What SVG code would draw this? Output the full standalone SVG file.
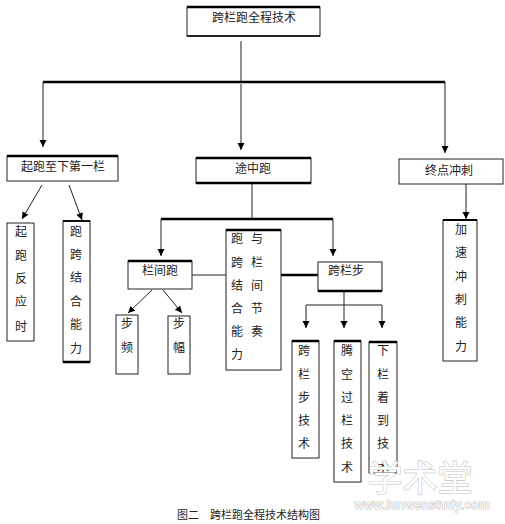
<svg xmlns="http://www.w3.org/2000/svg" width="505" height="524" viewBox="0 0 505 524">
<style>
  .box { fill: #fff; stroke: #222; stroke-width: 1; }
  .thick { stroke: #000; stroke-width: 2.5; }
  .t { font-family: "Noto Sans CJK SC", "Noto Sans CJK TC", sans-serif; font-size: 12px; fill: #222; text-anchor: middle; }
  .ln { fill: none; stroke: #222; stroke-width: 1; }
  .lnb { fill: none; stroke: #000; stroke-width: 2.5; }
  .wm { font-family: "Liberation Sans", "Noto Sans CJK SC", sans-serif; fill: #fff; stroke: #c4c4c4; stroke-width: 1.2; paint-order: stroke; text-anchor: middle; }
</style>
<defs>
  <marker id="arr" markerUnits="userSpaceOnUse" markerWidth="8" markerHeight="8" refX="7" refY="3.5" orient="auto">
    <path d="M0,0 L7,3.5 L0,7 Z" fill="#000"/>
  </marker>
</defs>
<rect width="505" height="524" fill="#fff"/>

<g id="connectors">
  <line class="ln" x1="241" y1="41" x2="241" y2="82"/>
  <line class="lnb" x1="43" y1="82" x2="445" y2="82"/>
  <line class="ln" x1="43" y1="82" x2="43" y2="147" marker-end="url(#arr)"/>
  <line class="ln" x1="241" y1="84" x2="241" y2="150" marker-end="url(#arr)"/>
  <line class="ln" x1="445" y1="82" x2="445" y2="153" marker-end="url(#arr)"/>
  <line class="ln" x1="42" y1="185" x2="22" y2="219" marker-end="url(#arr)"/>
  <line class="ln" x1="69" y1="185" x2="82" y2="220" marker-end="url(#arr)"/>
  <line class="ln" x1="252" y1="183" x2="252" y2="219"/>
  <line class="lnb" x1="161" y1="219" x2="333" y2="219"/>
  <line class="ln" x1="161" y1="219" x2="161" y2="256" marker-end="url(#arr)"/>
  <line class="ln" x1="333" y1="219" x2="333" y2="256" marker-end="url(#arr)"/>
  <line class="ln" x1="466" y1="184" x2="466" y2="219" marker-end="url(#arr)"/>
  <line class="ln" x1="192" y1="275" x2="226" y2="275"/>
  <line class="lnb" x1="281" y1="275" x2="318" y2="275"/>
  <line class="ln" x1="152" y1="290" x2="128" y2="313" marker-end="url(#arr)"/>
  <line class="ln" x1="163" y1="290" x2="182" y2="313" marker-end="url(#arr)"/>
  <line class="ln" x1="344" y1="292" x2="344" y2="328" marker-end="url(#arr)"/>
  <line class="ln" x1="306" y1="305" x2="382" y2="305"/>
  <line class="ln" x1="306" y1="305" x2="306" y2="328" marker-end="url(#arr)"/>
  <line class="ln" x1="382" y1="305" x2="382" y2="328" marker-end="url(#arr)"/>
</g>

<g id="root">
  <rect class="box" x="187" y="7" width="133" height="29"/>
  <line class="thick" x1="187" y1="7" x2="320" y2="7"/>
  <line x1="187" y1="36" x2="320" y2="36" stroke="#000" stroke-width="1.5"/>
  <text class="t" x="254" y="21.5">跨栏跑全程技术</text>
</g>

<g id="start">
  <rect class="box" x="7" y="156" width="111" height="25"/>
  <line class="thick" x1="7" y1="156" x2="118" y2="156"/>
  <text class="t" x="63" y="171">起跑至下第一栏</text>
</g>

<g id="midrun">
  <rect class="box" x="196" y="158" width="115" height="25"/>
  <line class="thick" x1="196" y1="158" x2="311" y2="158"/>
  <line class="thick" x1="196" y1="183" x2="311" y2="183"/>
  <text class="t" x="253" y="173">途中跑</text>
</g>

<g id="finish">
  <rect class="box" x="399" y="159" width="104" height="25"/>
  <text class="t" x="449" y="175">终点冲刺</text>
</g>

<g id="reaction">
  <rect class="box" x="7" y="223" width="27" height="118"/>
  <text class="t" x="21"><tspan x="21" y="236">起</tspan><tspan x="21" y="260">跑</tspan><tspan x="21" y="283">反</tspan><tspan x="21" y="306">应</tspan><tspan x="21" y="331">时</tspan></text>
</g>

<g id="combine">
  <rect class="box" x="63" y="221" width="27" height="141"/>
  <line x1="63" y1="221" x2="90" y2="221" stroke="#000" stroke-width="1.8"/>
  <line class="thick" x1="63" y1="362" x2="90" y2="362"/>
  <text class="t"><tspan x="76" y="236">跑</tspan><tspan x="76" y="259">跨</tspan><tspan x="76" y="282">结</tspan><tspan x="76" y="306">合</tspan><tspan x="76" y="329">能</tspan><tspan x="76" y="353">力</tspan></text>
</g>

<g id="between">
  <rect class="box" x="128" y="261" width="64" height="28"/>
  <line class="thick" x1="128" y1="261" x2="192" y2="261"/>
  <text class="t" x="160" y="274.5">栏间跑</text>
</g>

<g id="rhythm">
  <rect class="box" x="226" y="230" width="55" height="140"/>
  <line class="thick" x1="226" y1="230" x2="281" y2="230"/>
  <text class="t"><tspan x="237" y="243">跑</tspan><tspan x="237" y="267">跨</tspan><tspan x="237" y="290">结</tspan><tspan x="237" y="313">合</tspan><tspan x="237" y="336">能</tspan><tspan x="237" y="359">力</tspan></text>
  <text class="t"><tspan x="257" y="243">与</tspan><tspan x="257" y="267">栏</tspan><tspan x="257" y="290">间</tspan><tspan x="257" y="313">节</tspan><tspan x="257" y="336">奏</tspan></text>
</g>

<g id="hurdlestep">
  <rect class="box" x="318" y="262" width="64" height="29"/>
  <line class="thick" x1="318" y1="291" x2="382" y2="291"/>
  <text class="t" x="346" y="274.5">跨栏步</text>
</g>

<g id="accel">
  <rect class="box" x="443" y="220" width="34" height="141"/>
  <line x1="443" y1="220" x2="477" y2="220" stroke="#000" stroke-width="1.8"/>
  <text class="t"><tspan x="461" y="234">加</tspan><tspan x="461" y="257">速</tspan><tspan x="461" y="281">冲</tspan><tspan x="461" y="304">刺</tspan><tspan x="461" y="327">能</tspan><tspan x="461" y="351">力</tspan></text>
</g>

<g id="freq">
  <rect class="box" x="116" y="315" width="22" height="59"/>
  <text class="t"><tspan x="127" y="328">步</tspan><tspan x="127" y="352">频</tspan></text>
</g>

<g id="stride">
  <rect class="box" x="168" y="316" width="22" height="58"/>
  <text class="t"><tspan x="179" y="328">步</tspan><tspan x="179" y="352">幅</tspan></text>
</g>

<g id="techA">
  <rect class="box" x="292" y="341" width="27" height="117"/>
  <line class="thick" x1="292" y1="341" x2="319" y2="341"/>
  <text class="t"><tspan x="304" y="355">跨</tspan><tspan x="304" y="379">栏</tspan><tspan x="304" y="402">步</tspan><tspan x="304" y="425">技</tspan><tspan x="304" y="448">术</tspan></text>
</g>

<g id="techB">
  <rect class="box" x="334" y="341" width="27" height="141"/>
  <line class="thick" x1="334" y1="341" x2="361" y2="341"/>
  <text class="t"><tspan x="347" y="355">腾</tspan><tspan x="347" y="379">空</tspan><tspan x="347" y="402">过</tspan><tspan x="347" y="425">栏</tspan><tspan x="347" y="448">技</tspan><tspan x="347" y="472">术</tspan></text>
</g>

<g id="techC">
  <rect class="box" x="369" y="342" width="28" height="131"/>
  <line class="thick" x1="369" y1="342" x2="397" y2="342"/>
  <text class="t"><tspan x="383" y="355">下</tspan><tspan x="383" y="379">栏</tspan><tspan x="383" y="402">着</tspan><tspan x="383" y="425">到</tspan><tspan x="383" y="448">技</tspan><tspan x="383" y="472">术</tspan></text>
</g>

<g id="watermark">
  <text class="wm" x="420" y="491" font-size="35" font-family="Noto Sans CJK SC, sans-serif">学术堂</text>
  <text class="wm" x="422" y="509" font-size="12.5" textLength="135">www.lunwenstudy.com</text>
</g>

<g id="caption">
  <text x="177" y="519" font-family="Noto Sans CJK SC, sans-serif" font-size="11" fill="#222">图二　跨栏跑全程技术结构图</text>
</g>
</svg>
